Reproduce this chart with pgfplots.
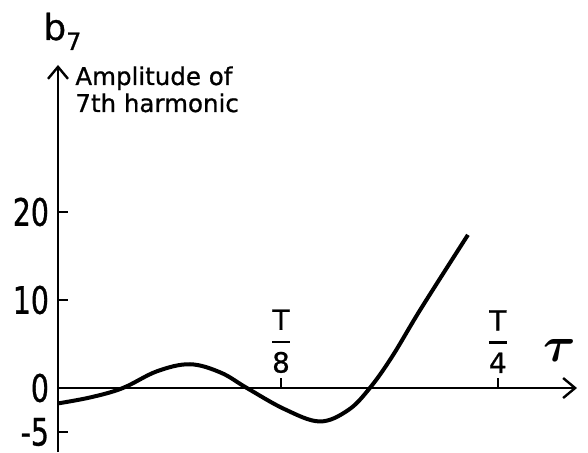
\documentclass[border=0pt]{standalone}
\usepackage{pgfplots}
\pgfplotsset{compat=1.18}
\usepackage{amsmath}
\usepackage{fontspec}
\setmainfont{DejaVu Sans}[FakeBold=0.8]
\newfontfamily\tickfont{DejaVu Sans}[FakeStretch=0.75,FakeBold=0.8]
\usetikzlibrary{arrows.meta}

\begin{document}
\begin{tikzpicture}
\useasboundingbox (0,0) rectangle (294bp,226.5bp);
\begin{axis}[
  at={(29bp,0.5bp)}, anchor=south west,
  scale only axis, width=259.5bp, height=193.5bp,
  xmin=0, xmax=2.36, ymin=-7.27, ymax=36.7,
  axis lines=middle,
  axis line style={line width=1.4bp, -{Straight Barb[length=6bp,width=10bp,line width=1.2bp]}},
  hide obscured y ticks=false, hide obscured x ticks=false,
  tick align=inside, major tick length=5bp,
  tick style={line width=1.2bp, black},
  ytick={-5,0,10,20}, yticklabels={-5,0,10,20},
  yticklabel style={font=\tickfont\fontsize{19}{19}\selectfont, anchor=east, xshift=-1bp},
  xtick={1.014,2},
  xticklabels={$\genfrac{}{}{1.4bp}{0}{\mbox{T}}{\mbox{8}}$, $\genfrac{}{}{1.4bp}{0}{\mbox{T}}{\mbox{4}}$},
  xticklabel style={font=\fontsize{14}{14}\selectfont, anchor=south, yshift=4bp},
  clip=false,
]
\addplot[line width=2bp, smooth, tension=0.6] coordinates {
(0,-1.75) (0.15,-1.05) (0.295,0) (0.45,1.9) (0.6,2.7) (0.74,1.75) (0.859,0)
(1.03,-2.4) (1.19,-3.8) (1.32,-2.5) (1.418,0) (1.52,3.6) (1.65,9.0) (1.864,17.4)
};
\end{axis}
\node[anchor=base west, font=\fontsize{18}{18}\selectfont, inner sep=0] at (21.5bp,206.5bp) {b\raisebox{-5bp}{\fontsize{12}{12}\selectfont 7}};
\node[anchor=base west, font=\fontsize{12.3}{12.3}\selectfont, inner sep=0] at (37.5bp,184bp) {Amplitude of};
\node[anchor=base west, font=\fontsize{12.3}{12.3}\selectfont, inner sep=0] at (37.5bp,170.5bp) {7th harmonic};
\node at (280bp,51.5bp) {\fontsize{25}{25}\selectfont$\boldsymbol{\tau}$};
\end{tikzpicture}
\end{document}
